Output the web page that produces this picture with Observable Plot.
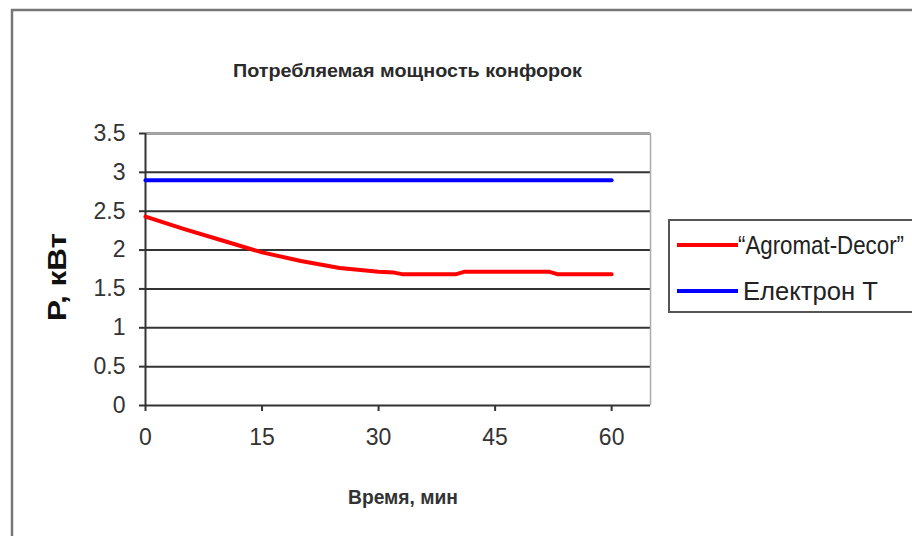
<!DOCTYPE html>
<html><head><meta charset="utf-8">
<script src="https://cdn.jsdelivr.net/npm/d3@7"></script>
<script src="https://cdn.jsdelivr.net/npm/@observablehq/plot@0.6"></script>
<style>
html,body{margin:0;padding:0;background:#fff;}
#chart{position:relative;width:912px;height:536px;overflow:hidden;}
</style></head>
<body><div id="chart"></div>
<script>
const title = "Потребляемая мощность конфорок";
const xLabel = "Время, мин";
const yLabel = "P, кВт";
const seriesNames = ["“Agromat-Decor”", "Електрон Т"];
const seriesColors = ["#ff0000", "#0000ff"];
const xTicks = [0, 15, 30, 45, 60];
const yTicks = [0, 0.5, 1, 1.5, 2, 2.5, 3, 3.5];
const agromatTime = [0, 5, 10, 15, 20, 25, 30, 32, 33, 40, 41, 52, 53, 60];
const agromatPower = [2.43, 2.27, 2.12, 1.97, 1.86, 1.77, 1.72, 1.71, 1.69, 1.69, 1.72, 1.72, 1.69, 1.69];
const elektronTime = [0, 60];
const elektronPower = [2.9, 2.9];

const data = [
  ...agromatTime.map((t, i) => ({t, p: agromatPower[i], s: seriesNames[0]})),
  ...elektronTime.map((t, i) => ({t, p: elektronPower[i], s: seriesNames[1]}))
];

const font = "Liberation Sans, Arial, sans-serif";
const plot = Plot.plot({
  width: 912, height: 536,
  marginLeft: 145, marginRight: 262, marginTop: 133, marginBottom: 131,
  style: {fontFamily: font, background: "transparent", overflow: "visible"},
  x: {type: "linear", domain: [0, 65], axis: null},
  y: {type: "linear", domain: [0, 3.5], axis: null},
  color: {domain: seriesNames, range: seriesColors},
  marks: [
    Plot.ruleY(yTicks.filter(d => d > 0), {stroke: "#333", strokeWidth: 2}),
    Plot.ruleY([3.5], {stroke: "#aaa", strokeWidth: 1.5}),
    Plot.ruleX([65], {stroke: "#aaa", strokeWidth: 1.5}),
    Plot.ruleX([0], {stroke: "#333", strokeWidth: 2}),
    Plot.ruleY([0], {stroke: "#333", strokeWidth: 2}),
    Plot.axisY({ticks: yTicks, tickSize: 6, tickPadding: 14, fontSize: 23, stroke: "#333", strokeWidth: 2, color: "#333", tickFormat: d => String(d), label: null}),
    Plot.axisX({ticks: xTicks, tickSize: 6, tickPadding: 17, fontSize: 23, stroke: "#333", strokeWidth: 2, color: "#333", tickFormat: d => String(d), label: null}),
    Plot.line(data, {x: "t", y: "p", z: "s", stroke: "s", strokeWidth: 4})
  ]
});
document.getElementById("chart").appendChild(plot);

const svg = d3.select(plot);
// outer frame
svg.insert("rect", ":first-child").attr("x", 12).attr("y", 10).attr("width", 920).attr("height", 540)
  .attr("fill", "none").attr("stroke", "#777").attr("stroke-width", 2.5);
svg.append("text").attr("x", 233).attr("y", 77).attr("text-anchor", "start")
  .attr("font-size", 19).attr("font-weight", "bold").attr("fill", "#2a2a2a").attr("font-family", font)
  .attr("textLength", 349).attr("lengthAdjust", "spacingAndGlyphs").text(title);
svg.append("text").attr("x", 348).attr("y", 504).attr("text-anchor", "start")
  .attr("font-size", 20).attr("font-weight", "bold").attr("fill", "#333").attr("font-family", font)
  .attr("textLength", 110).attr("lengthAdjust", "spacingAndGlyphs").text(xLabel);
svg.append("text").attr("transform", "translate(66,277) rotate(-90)").attr("text-anchor", "middle")
  .attr("font-size", 25).attr("font-weight", "bold").attr("fill", "#111").attr("font-family", font)
  .attr("textLength", 88).attr("lengthAdjust", "spacingAndGlyphs").text(yLabel);
// legend
svg.append("rect").attr("x", 669).attr("y", 220).attr("width", 260).attr("height", 92)
  .attr("fill", "#fff").attr("stroke", "#555").attr("stroke-width", 2);
const legendLen = [166, 135];
seriesNames.forEach((n, i) => {
  const y = 245 + i * 46;
  svg.append("line").attr("x1", 677).attr("x2", 738).attr("y1", y).attr("y2", y)
    .attr("stroke", seriesColors[i]).attr("stroke-width", 4);
  svg.append("text").attr("x", i === 0 ? 738 : 743).attr("y", y + 9).attr("text-anchor", "start").attr("font-size", 25).attr("fill", "#222")
    .attr("font-family", font).attr("textLength", legendLen[i]).attr("lengthAdjust", "spacingAndGlyphs").text(n);
});
</script></body></html>
